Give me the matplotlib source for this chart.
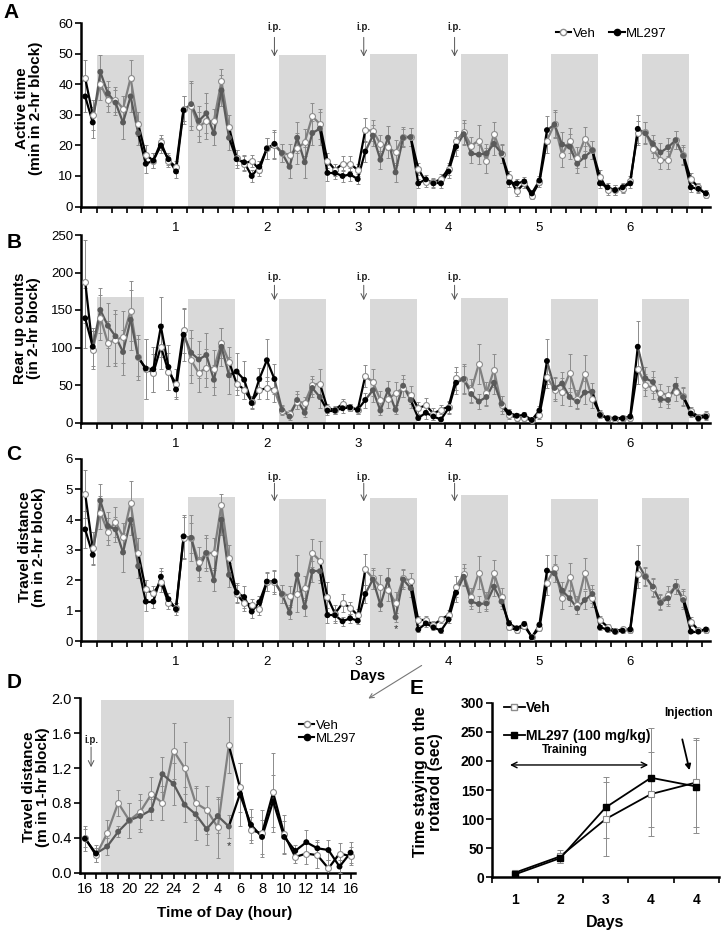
import numpy as np
import matplotlib
matplotlib.use("Agg")
import matplotlib.pyplot as plt
from matplotlib.lines import Line2D

plt.rcParams['font.family'] = ['Liberation Sans', 'DejaVu Sans']

# ---------------- data: panels A-C (2-hr blocks, 12 per day) ----------------
day_labels = ['1', '2', '3', '4', '5', '6']

active_veh = [42, 30, 40, 35, 35, 32, 42, 27, 17, 15, 21, 15, 13,
              32, 33, 26, 28, 28, 41, 26, 16, 14, 15, 12, 19,
              20, 17.5, 17, 19, 21, 29.5, 27, 15, 12, 14, 14, 12,
              25, 24.8, 20.5, 19.4, 17.7, 22.9, 22.7, 12.4, 8, 7.9, 9, 12.4,
              21.6, 24.3, 19.9, 21.6, 15, 23.7, 17.2, 9.6, 5, 7.6, 3.6, 8,
              21.6, 27, 17, 21.6, 16, 22.1, 18.4, 9.8, 5.4, 5.4, 5.8, 8.5,
              24, 24.3, 18.8, 15.3, 15.3, 21.8, 17, 9, 6.3, 3.9]
active_veh_err = [6, 5, 5, 4, 4, 4, 6, 4, 3, 2.5, 2.5, 2, 2,
                  4, 8, 5, 6, 4, 4, 4, 2.5, 2.5, 2, 2, 3.5,
                  4.5, 3, 3.5, 5, 4.5, 4.5, 5, 2.5, 2, 2.5, 2.5, 2,
                  4, 3.5, 3, 3.5, 4, 3, 3, 2, 1.5, 1.5, 1.5, 2,
                  3, 4, 3, 5, 4, 4, 3, 2, 1.5, 1.5, 1, 1.5,
                  4, 4.5, 4, 4, 3.5, 4, 3, 2, 1.5, 1.5, 1.5, 1.5,
                  4, 3.5, 3, 3, 3, 3, 3, 2, 1.5, 1]
active_ml = [36, 27.5, 44, 37, 34, 27.5, 36, 24, 14, 15, 20, 15.5, 11.5,
             31.5, 33.5, 28, 30.5, 24, 38, 22.5, 15.5, 14.5, 10, 13, 19,
             20.5, 17.5, 13, 22.5, 14.5, 24, 25.5, 11, 11, 10, 10.5, 9,
             18, 23.2, 15.3, 22.5, 11.2, 22.5, 22.7, 7.6, 8.9, 7.6, 7.6, 11.5,
             19.6, 23.7, 17.4, 17, 17.4, 20.5, 17.4, 7.9, 7.6, 8.2, 4.3, 8.5,
             25, 26.8, 20.3, 19.6, 14, 16.3, 18.4, 7.6, 6.3, 5.4, 6.3, 7.6,
             25.4, 24, 20.5, 17.7, 19.4, 21.7, 16.6, 6.3, 5.8, 4.3]
active_ml_err = [5, 5, 5.5, 4, 4, 5.5, 5, 4, 3, 2.5, 2.5, 2, 2,
                 4.5, 7, 5, 6.5, 4, 5, 4, 3, 2.5, 2, 2, 3.5,
                 4.5, 3, 3.5, 5, 5, 4, 5.5, 2.5, 2, 2, 2, 1.5,
                 3.5, 3.5, 3, 4, 3, 3, 3, 1.5, 1.5, 1.5, 1.5, 2,
                 3, 3.5, 3, 3, 3, 3.5, 3, 1.5, 1.5, 1.5, 1, 1.5,
                 4.5, 4, 4, 4, 3, 3.5, 3, 1.5, 1.5, 1.5, 1.5, 1.5,
                 4.5, 3.5, 3, 3, 3, 3, 3, 1.5, 1.5, 1]

rear_veh = [188, 97, 140, 106, 110, 114, 149, 87, 72, 66, 101, 68, 52,
            123, 83, 66, 73, 72, 106, 81, 52, 44, 28, 43, 46,
            43, 16, 12, 28, 26, 50, 52, 19, 17, 25, 20, 17,
            62, 54, 30, 31, 39, 46, 37, 19, 23, 12, 17, 21,
            59, 58, 43, 78, 39, 70, 23, 10, 6.5, 5.5, 3.3, 10,
            61, 44, 41, 66, 32, 65, 32, 12, 5.6, 4.2, 5.6, 5.6,
            72, 50, 46, 39, 37, 41, 35, 15, 8, 10]
rear_veh_err = [55, 25, 30, 30, 35, 35, 40, 30, 40, 25, 30, 25, 20,
                30, 30, 25, 25, 25, 20, 20, 15, 12, 8, 12, 15,
                15, 6, 5, 10, 8, 12, 20, 6, 5, 6, 5, 5,
                15, 18, 12, 12, 15, 12, 12, 8, 10, 8, 6, 8,
                15, 18, 15, 27, 15, 22, 12, 5, 4, 4, 3, 5,
                15, 15, 18, 25, 12, 25, 12, 5, 3, 3, 3, 3,
                20, 15, 15, 12, 12, 12, 12, 6, 4, 5]
rear_ml = [139, 101, 150, 129, 115, 94, 137, 87, 72, 71, 128, 74, 44,
           117, 93, 84, 90, 57, 101, 63, 68, 57, 26, 58, 83,
           58, 17, 8, 30, 13, 46, 34, 16, 16, 19, 20, 17,
           30, 43, 16, 43, 17, 49, 30, 6, 13, 8, 4, 19,
           53, 58, 38, 28, 34, 53, 25, 13, 9, 10, 3.3, 16,
           82, 46, 52, 34, 28, 40, 41, 10, 5.6, 5.6, 5.6, 7.8,
           101, 59, 54, 31, 30, 49, 34, 12, 5.6, 7.8]
rear_ml_err = [40, 25, 30, 30, 35, 30, 40, 25, 40, 30, 40, 30, 10,
               35, 30, 25, 30, 20, 25, 25, 25, 25, 8, 15, 28,
               20, 6, 4, 12, 6, 12, 15, 6, 5, 6, 5, 5,
               10, 15, 6, 12, 6, 15, 10, 3, 8, 5, 3, 8,
               15, 20, 12, 10, 12, 15, 10, 5, 4, 4, 2, 6,
               30, 15, 15, 12, 10, 15, 12, 4, 3, 3, 3, 3,
               35, 15, 15, 10, 10, 12, 12, 5, 3, 4]

travel_veh = [4.85, 3.05, 4.23, 3.6, 3.93, 3.44, 4.56, 2.91, 1.7, 1.57, 1.96, 1.25, 1.1,
              3.4, 3.4, 2.6, 2.9, 2.9, 4.5, 2.72, 1.55, 1.25, 1.2, 1.05, 1.95,
              1.95, 1.55, 1.5, 1.55, 1.75, 2.9, 2.65, 1.45, 0.9, 1.25, 1.1, 0.85,
              2.36, 2.07, 1.79, 1.68, 1.26, 2.07, 1.99, 0.69, 0.69, 0.53, 0.71, 0.86,
              1.79, 2.2, 1.46, 2.25, 1.3, 2.23, 1.46, 0.45, 0.36, 0.49, 0.14, 0.42,
              1.92, 2.4, 1.41, 2.12, 1.19, 2.23, 1.41, 0.69, 0.47, 0.34, 0.38, 0.36,
              2.2, 2.14, 1.74, 1.3, 1.52, 1.81, 1.41, 0.64, 0.36, 0.36]
travel_veh_err = [0.8, 0.55, 0.55, 0.45, 0.5, 0.45, 0.7, 0.5, 0.3, 0.25, 0.35, 0.2, 0.15,
                  0.7, 0.75, 0.5, 0.6, 0.5, 0.35, 0.45, 0.3, 0.25, 0.2, 0.2, 0.3,
                  0.4, 0.3, 0.3, 0.6, 0.4, 0.45, 0.65, 0.5, 0.3, 0.3, 0.2, 0.2,
                  0.5, 0.35, 0.4, 0.35, 0.35, 0.3, 0.25, 0.15, 0.15, 0.12, 0.12, 0.15,
                  0.35, 0.35, 0.3, 0.55, 0.3, 0.45, 0.3, 0.1, 0.1, 0.1, 0.05, 0.1,
                  0.4, 0.45, 0.35, 0.45, 0.3, 0.5, 0.3, 0.15, 0.1, 0.08, 0.08, 0.08,
                  0.45, 0.3, 0.3, 0.25, 0.3, 0.25, 0.3, 0.15, 0.08, 0.08]
travel_ml = [3.68, 2.84, 4.63, 3.79, 3.68, 2.92, 3.99, 2.47, 1.3, 1.3, 2.12, 1.38, 1.05,
             3.45, 3.4, 2.38, 2.9, 2.0, 4.0, 2.18, 1.6, 1.45, 0.97, 1.28, 1.96,
             1.97, 1.55, 0.93, 2.18, 1.12, 2.3, 2.3, 0.85, 0.85, 0.65, 0.75, 0.67,
             1.55, 2.03, 1.19, 2.01, 0.78, 2.03, 1.74, 0.38, 0.58, 0.45, 0.34, 0.71,
             1.59, 2.12, 1.3, 1.22, 1.24, 1.79, 1.3, 0.58, 0.42, 0.56, 0.12, 0.53,
             2.32, 2.23, 1.66, 1.41, 1.08, 1.35, 1.55, 0.45, 0.38, 0.31, 0.34, 0.38,
             2.56, 2.12, 1.79, 1.26, 1.41, 1.81, 1.35, 0.31, 0.31, 0.38]
travel_ml_err = [0.6, 0.3, 0.55, 0.45, 0.4, 0.65, 0.5, 0.4, 0.3, 0.2, 0.3, 0.2, 0.2,
                 0.7, 0.5, 0.4, 0.5, 0.35, 0.5, 0.4, 0.3, 0.35, 0.2, 0.2, 0.3,
                 0.35, 0.3, 0.2, 0.65, 0.3, 0.35, 0.4, 0.25, 0.2, 0.15, 0.15, 0.12,
                 0.3, 0.3, 0.2, 0.4, 0.15, 0.3, 0.3, 0.08, 0.12, 0.1, 0.08, 0.12,
                 0.3, 0.3, 0.25, 0.25, 0.2, 0.3, 0.25, 0.1, 0.08, 0.1, 0.04, 0.1,
                 0.5, 0.3, 0.3, 0.25, 0.2, 0.3, 0.3, 0.08, 0.08, 0.06, 0.06, 0.08,
                 0.6, 0.3, 0.3, 0.25, 0.25, 0.25, 0.3, 0.06, 0.06, 0.08]

shade_top_a = [49.5, 50, 49.5, 50, 50, 50, 50]
shade_top_b = [167, 165, 165, 165, 166, 165, 165]
shade_top_c = [4.7, 4.75, 4.68, 4.7, 4.8, 4.67, 4.7]
ip_blocks = [25, 36.8, 48.8]

# ---------------- data: panel D (1-hr blocks, 16h to 16h) ----------------
hour_labels = ['16', '18', '20', '22', '24', '2', '4', '6', '8', '10', '12', '14', '16']
d_veh = [0.40, 0.20, 0.45, 0.80, 0.60, 0.70, 0.90, 0.80, 1.40, 1.20, 0.80, 0.72, 0.52,
         1.46, 0.98, 0.49, 0.45, 0.92, 0.44, 0.18, 0.22, 0.20, 0.05, 0.22, 0.19]
d_veh_err = [0.10, 0.08, 0.15, 0.15, 0.20, 0.20, 0.20, 0.20, 0.32, 0.30, 0.20, 0.28, 0.35,
             0.32, 0.28, 0.15, 0.27, 0.45, 0.22, 0.07, 0.12, 0.15, 0.10, 0.12, 0.10]
d_ml = [0.39, 0.22, 0.30, 0.47, 0.60, 0.65, 0.72, 1.13, 1.02, 0.78, 0.67, 0.50, 0.65,
        0.53, 0.90, 0.55, 0.41, 0.82, 0.41, 0.25, 0.35, 0.28, 0.26, 0.07, 0.23]
d_ml_err = [0.14, 0.10, 0.10, 0.06, 0.20, 0.18, 0.12, 0.20, 0.24, 0.20, 0.30, 0.18, 0.20,
            0.13, 0.36, 0.18, 0.20, 0.30, 0.18, 0.07, 0.14, 0.10, 0.12, 0.07, 0.12]

# ---------------- data: panel E (rotarod) ----------------
e_days = ['1', '2', '3', '4', '4']
e_veh = [8, 36, 100, 143, 163]
e_veh_err = [4, 11, 63, 72, 77]
e_ml = [5, 33, 120, 171, 156]
e_ml_err = [3, 8, 53, 85, 80]

W, H = 722, 934
fig = plt.figure(figsize=(W / 100, H / 100), dpi=100)


def fx(x):
    return x / W


def fy(y):
    return 1 - y / H


def px_axes(left, top, right, bottom):
    return fig.add_axes([fx(left), fy(bottom), (right - left) / W, (bottom - top) / H])


BLACK = 'black'
VEH_DARK = '#808080'
ML_DARK = '#5a5a5a'
ERR = '#8c8c8c'
SHADE = '#d9d9d9'


def draw_group(ax, y, err, dark, kind):
    x = np.arange(len(y))
    y = np.asarray(y, float)
    dark_c = VEH_DARK if kind == 'veh' else ML_DARK
    ax.errorbar(x, y, yerr=err, fmt='none', ecolor=ERR, elinewidth=0.7,
                capsize=1.6, capthick=0.7, zorder=3)
    # Excel style: each segment takes the colour of the point it ends on
    for i in range(1, len(x)):
        c = dark_c if dark[i] else BLACK
        ax.plot(x[i - 1:i + 1], y[i - 1:i + 1], color=c, lw=1.6, zorder=4,
                solid_capstyle='round')
    if kind == 'veh':
        ax.scatter(x, y, s=18, facecolors='white', edgecolors='#8c8c8c',
                   linewidths=0.8, zorder=5)
    else:
        cols = [dark_c if d else BLACK for d in dark]
        ax.scatter(x, y, s=18, c=cols, linewidths=0, zorder=6)


def style_axes(ax):
    for s in ['top', 'right']:
        ax.spines[s].set_visible(False)
    for s in ['left', 'bottom']:
        ax.spines[s].set_linewidth(1.8)
    ax.tick_params(axis='y', direction='out', length=4, width=1.2, labelsize=9.5, pad=2)


def block_panel(ax, veh, veh_err, ml, ml_err, ylim, yticks, shade_tops, ip_y):
    n = len(veh)
    dark = [(i % 12) in range(2, 8) for i in range(n)]
    for d, top in enumerate(shade_tops):
        ax.fill_between([12 * d + 1.6, 12 * d + 7.8], 0, top, color=SHADE,
                        linewidth=0, zorder=1)
    draw_group(ax, veh, veh_err, dark, 'veh')
    draw_group(ax, ml, ml_err, dark, 'ml')
    ax.set_xlim(-0.5, n - 0.5)
    ax.set_ylim(*ylim)
    ax.set_yticks(yticks)
    style_axes(ax)
    ax.set_xticks([12 * (k + 1) for k in range(len(day_labels))], day_labels)
    ax.set_xticks(np.arange(-0.5, n, 2), minor=True)
    ax.tick_params(axis='x', which='major', length=0, labelsize=9.5, pad=11)
    ax.tick_params(axis='x', which='minor', direction='out', length=4, width=1.2)
    t_y, a0, a1 = ip_y
    for xb in ip_blocks:
        ax.text(xb, t_y, 'i.p.', ha='center', va='center', fontsize=7,
                fontweight='bold', color='#222222')
        ax.annotate('', xy=(xb, a1), xytext=(xb, a0),
                    arrowprops=dict(arrowstyle='->', color='#555555', lw=0.7,
                                    shrinkA=0, shrinkB=0))


# ---------------- A ----------------
axA = px_axes(81.4, 23, 709.7, 206.6)
block_panel(axA, active_veh, active_veh_err, active_ml, active_ml_err,
            (0, 60), range(0, 61, 10), shade_top_a, (58.6, 55.3, 49.0))
leg_handles = [
    Line2D([], [], color=BLACK, lw=1.5, marker='o', mfc='white', mec='#8c8c8c', ms=4.5),
    Line2D([], [], color=BLACK, lw=1.5, marker='o', mfc=BLACK, mec=BLACK, ms=4.5),
]
fig.legend(leg_handles, ['Veh', 'ML297'], loc='center', bbox_to_anchor=(fx(611), fy(34)),
           ncol=2, frameon=False, fontsize=9.5, handlelength=1.2, handletextpad=0.1,
           columnspacing=1.0)

# ---------------- B ----------------
axB = px_axes(81.4, 235, 709.7, 422.5)
block_panel(axB, rear_veh, rear_veh_err, rear_ml, rear_ml_err,
            (0, 250), range(0, 251, 50), shade_top_b, (194, 183, 163))

# ---------------- C ----------------
axC = px_axes(81.4, 459, 709.7, 641)
block_panel(axC, travel_veh, travel_veh_err, travel_ml, travel_ml_err,
            (0, 6), range(0, 7), shade_top_c, (5.41, 5.2, 4.6))
axC.text(41, 0.38, '*', ha='center', va='center', fontsize=8, color='#333333')

ylab_kw = dict(rotation=90, ha='center', va='center', fontsize=11, fontweight='bold',
               linespacing=1.0)
fig.text(fx(29), fy(108), 'Active time\n(min in 2-hr block)', **ylab_kw)
fig.text(fx(27), fy(328), 'Rear up counts\n(in 2-hr block)', **ylab_kw)
fig.text(fx(32), fy(547), 'Travel distance\n(m in 2-hr block)', **ylab_kw)
fig.text(fx(368), fy(676), 'Days', ha='center', va='center', fontsize=10.5, fontweight='bold')

# ---------------- D ----------------
axD = px_axes(80, 698.3, 355, 872.7)
hrs = np.arange(len(d_veh))
d_dark = [2 <= i <= 13 for i in hrs]
axD.fill_between([1.44, 13.47], 0, 1.98, color=SHADE, linewidth=0, zorder=1)
draw_group(axD, d_veh, d_veh_err, d_dark, 'veh')
draw_group(axD, d_ml, d_ml_err, d_dark, 'ml')
axD.set_xlim(-0.45, 24.4)
axD.set_ylim(0, 2.0)
axD.set_yticks(np.arange(0, 2.01, 0.4), ['0.0', '0.4', '0.8', '1.2', '1.6', '2.0'])
style_axes(axD)
axD.tick_params(axis='y', labelsize=10.5)
axD.set_xticks(np.arange(0, 25, 2), hour_labels)
axD.set_xticks(hrs, minor=True)
axD.tick_params(axis='x', which='both', direction='out', length=4, width=1.2)
axD.tick_params(axis='x', which='major', labelsize=10.5, pad=3)
axD.text(0.55, 1.52, 'i.p.', ha='center', va='center', fontsize=7, fontweight='bold',
         color='#222222')
axD.annotate('', xy=(0.55, 1.21), xytext=(0.55, 1.44),
             arrowprops=dict(arrowstyle='->', color='#555555', lw=0.7, shrinkA=0, shrinkB=0))
axD.text(13, 0.30, '*', ha='center', va='center', fontsize=8, color='#333333')
axD.legend(leg_handles, ['Veh', 'ML297'], loc='upper left',
           bbox_to_anchor=(fx(292), fy(713)), bbox_transform=fig.transFigure,
           frameon=False, fontsize=9.5, handlelength=1.2, handletextpad=0.1,
           labelspacing=0.05, borderpad=0)
fig.text(fx(36), fy(787), 'Travel distance\n(m in 1-hr block)', **ylab_kw)
fig.text(fx(225), fy(913), 'Time of Day (hour)', ha='center', va='center',
         fontsize=11, fontweight='bold')

# ---------------- E ----------------
axE = px_axes(492.3, 702.7, 719, 877.3)
ex = np.arange(len(e_veh))
axE.errorbar(ex, e_veh, yerr=e_veh_err, fmt='none', ecolor=ERR, elinewidth=0.7,
             capsize=2, capthick=0.7, zorder=3)
axE.errorbar(ex, e_ml, yerr=e_ml_err, fmt='none', ecolor=ERR, elinewidth=0.7,
             capsize=2, capthick=0.7, zorder=3)
axE.plot(ex, e_veh, color=BLACK, lw=1.3, marker='s', ms=5, mfc='white', mec='#8c8c8c',
         mew=0.8, zorder=4)
axE.plot(ex, e_ml, color=BLACK, lw=1.3, marker='s', ms=5, mfc=BLACK, mec=BLACK, zorder=5)
axE.set_xlim(-0.5, 4.5)
axE.set_ylim(0, 300)
axE.set_yticks(range(0, 301, 50))
style_axes(axE)
axE.set_xticks(ex, e_days)
axE.set_xticks(np.arange(-0.5, 4.6, 1), minor=True)
axE.tick_params(axis='x', which='major', length=0, labelsize=10, pad=11)
axE.tick_params(axis='x', which='minor', direction='out', length=4, width=1.2)
axE.tick_params(axis='y', labelsize=10)
for lab in axE.get_xticklabels() + axE.get_yticklabels():
    lab.set_fontweight('bold')
e_handles = [
    Line2D([], [], color=BLACK, lw=1.3, marker='s', mfc='white', mec='#8c8c8c', ms=5),
    Line2D([], [], color=BLACK, lw=1.3, marker='s', mfc=BLACK, mec=BLACK, ms=5),
]
axE.legend(e_handles, ['Veh', 'ML297 (100 mg/kg)'], loc='upper left',
           bbox_to_anchor=(fx(497), fy(694)), bbox_transform=fig.transFigure,
           frameon=False, handlelength=1.5, handletextpad=0.1, labelspacing=1.0,
           borderpad=0, prop=dict(size=10, weight='bold'))
axE.annotate('', xy=(-0.11, 193), xytext=(2.94, 193),
             arrowprops=dict(arrowstyle='<->', color=BLACK, lw=1.0, shrinkA=0, shrinkB=0))
axE.text(1.1, 219, 'Training', ha='center', va='center', fontsize=8.5, fontweight='bold')
axE.text(3.82, 283, 'Injection', ha='center', va='center', fontsize=8.5, fontweight='bold')
axE.annotate('', xy=(3.85, 184), xytext=(3.69, 237),
             arrowprops=dict(arrowstyle='-|>', color=BLACK, lw=1.3, mutation_scale=8,
                             shrinkA=0, shrinkB=0))
fig.text(fx(428), fy(782), 'Time staying on the\nrotarod (sec)', **dict(ylab_kw, fontsize=11.5))
fig.text(fx(605), fy(923), 'Days', ha='center', va='center', fontsize=11.5, fontweight='bold')

# ---------------- panel letters and zoom arrow ----------------
for letter, (lx, ly) in zip('ABCDE', [(11, 12), (14, 242), (14, 455), (14, 683), (417, 688)]):
    fig.text(fx(lx), fy(ly), letter, ha='center', va='center', fontsize=15, fontweight='bold')
fig.add_artist(matplotlib.patches.FancyArrowPatch(
    (fx(424), fy(664)), (fx(366), fy(700)), transform=fig.transFigure,
    arrowstyle='->', mutation_scale=8, color='#777777', lw=0.8))

fig.savefig('out.png', dpi=100)
